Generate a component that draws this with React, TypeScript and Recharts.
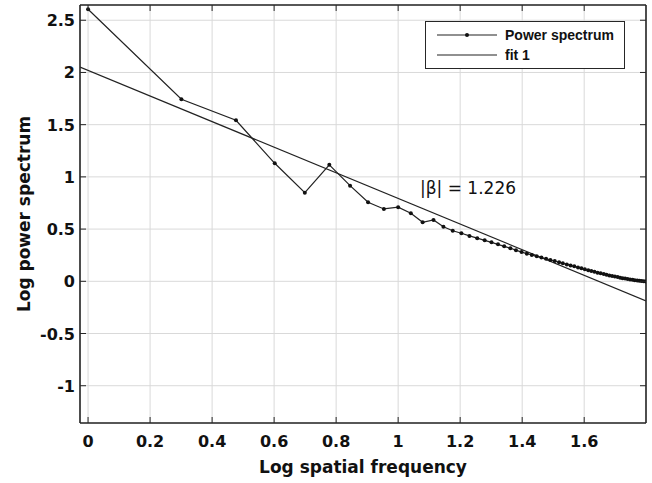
import { LineChart, Line, XAxis, YAxis, CartesianGrid, Legend } from "recharts"

// log10 of spatial frequency index
const spectrumX = [
  0, 0.301, 0.477, 0.602, 0.699, 0.778, 0.845, 0.903, 0.954, 1.0,
  1.041, 1.079, 1.114, 1.146, 1.176, 1.204, 1.23, 1.255, 1.279, 1.301,
  1.322, 1.342, 1.362, 1.38, 1.398, 1.415, 1.431, 1.447, 1.462, 1.477,
  1.491, 1.505, 1.519, 1.531, 1.544, 1.556, 1.568, 1.58, 1.591, 1.602,
  1.613, 1.623, 1.633, 1.643, 1.653, 1.663, 1.672, 1.681, 1.69, 1.699,
  1.708, 1.716, 1.724, 1.732, 1.74, 1.748, 1.756, 1.763, 1.771, 1.778,
  1.785, 1.792, 1.799,
]
const spectrumY = [
  2.605, 1.743, 1.542, 1.13, 0.849, 1.115, 0.916, 0.757, 0.693, 0.71,
  0.651, 0.565, 0.587, 0.523, 0.484, 0.46, 0.435, 0.413, 0.392, 0.373,
  0.354, 0.335, 0.316, 0.298, 0.28, 0.265, 0.252, 0.239, 0.227, 0.216,
  0.205, 0.194, 0.182, 0.172, 0.162, 0.152, 0.143, 0.133, 0.124, 0.115,
  0.107, 0.099, 0.091, 0.083, 0.076, 0.069, 0.062, 0.056, 0.05, 0.045,
  0.04, 0.035, 0.03, 0.026, 0.022, 0.018, 0.014, 0.011, 0.008, 0.005,
  0.003, 0.001, -0.002,
]
const fitX = [-0.026, 1.7993]
const fitY = [2.052, -0.187]

const xTicks = [0, 0.2, 0.4, 0.6, 0.8, 1, 1.2, 1.4, 1.6]
const yTicks = [-1, -0.5, 0, 0.5, 1, 1.5, 2, 2.5]

const spectrumData = spectrumX.map((x, i) => ({ x, y: spectrumY[i] }))
const fitData = fitX.map((x, i) => ({ x, y: fitY[i] }))

const axisColor = "#262626"
const tickFont = { fontFamily: "DejaVu Sans", fontWeight: 700, fontSize: 16, fill: "#111" }

const BottomTick = ({ x, y, payload }: any) => (
  <g>
    <line x1={x} y1={y} x2={x} y2={y - 6} stroke={axisColor} strokeWidth={1} />
    <text x={x} y={y + 24} textAnchor="middle" style={tickFont}>
      {payload.value}
    </text>
  </g>
)

const LeftTick = ({ x, y, payload }: any) => (
  <g>
    <line x1={x} y1={y} x2={x + 6} y2={y} stroke={axisColor} strokeWidth={1} />
    <text x={x - 5} y={y + 6} textAnchor="end" style={tickFont}>
      {payload.value}
    </text>
  </g>
)

// top / right axes only carry the inward tick marks of the box
const TopTick = ({ x }: any) => <line x1={x} y1={5} x2={x} y2={11} stroke={axisColor} strokeWidth={1} />

const RightTick = ({ y }: any) => <line x1={646} y1={y} x2={640} y2={y} stroke={axisColor} strokeWidth={1} />

const labelFont = { fontFamily: "DejaVu Sans", fontWeight: 700, fontSize: 17, fill: "#111" }

const XLabel = ({ viewBox }: any) => (
  <text x={viewBox.x + viewBox.width / 2} y={473} textAnchor="middle" style={labelFont}>
    Log spatial frequency
  </text>
)

const YLabel = ({ viewBox }: any) => {
  const cx = 24
  const cy = viewBox.y + viewBox.height / 2
  return (
    <text
      x={cx}
      y={cy}
      textAnchor="middle"
      dominantBaseline="central"
      transform={`rotate(-90, ${cx}, ${cy})`}
      style={labelFont}
    >
      Log power spectrum
    </text>
  )
}

const legendText = { fontFamily: "Liberation Sans", fontWeight: 700, fontSize: 14, fill: "#111" }

const LegendBox = () => (
  <div
    style={{
      width: 200,
      height: 48,
      boxSizing: "border-box",
      border: "1px solid #262626",
      background: "#fff",
    }}
  >
    <svg width={198} height={46}>
      <line x1={11} y1={13} x2={71} y2={13} stroke="#222" strokeWidth={1.2} />
      <circle cx={41} cy={13} r={2} fill="#111" />
      <text x={79} y={13} dominantBaseline="central" style={legendText}>
        Power spectrum
      </text>
      <line x1={11} y1={33} x2={71} y2={33} stroke="#222" strokeWidth={1.2} />
      <text x={79} y={33} dominantBaseline="central" style={legendText}>
        fit 1
      </text>
    </svg>
  </div>
)

export default function App() {
  const xDomain = [-0.026, 1.7993]
  const yDomain = [-1.357, 2.646]
  return (
    <div style={{ position: "absolute", left: 0, top: 0, width: 652, height: 483, background: "#fff" }}>
      <LineChart width={652} height={483} margin={{ top: 4, right: 5, bottom: 0, left: 0 }}>
        <CartesianGrid stroke="#d9d9d9" strokeWidth={1} />
        <XAxis
          dataKey="x"
          type="number"
          domain={xDomain}
          allowDataOverflow
          ticks={xTicks}
          interval={0}
          height={60}
          tickSize={0}
          tickMargin={0}
          tick={<BottomTick />}
          axisLine={{ stroke: axisColor, strokeWidth: 1.6 }}
          label={XLabel}
        />
        <XAxis
          xAxisId="top"
          orientation="top"
          dataKey="x"
          type="number"
          domain={xDomain}
          allowDataOverflow
          ticks={xTicks}
          interval={0}
          height={1}
          tickSize={0}
          tickMargin={0}
          tick={<TopTick />}
          axisLine={{ stroke: axisColor, strokeWidth: 1.6 }}
        />
        <YAxis
          type="number"
          domain={yDomain}
          allowDataOverflow
          ticks={yTicks}
          interval={0}
          width={80}
          tickSize={0}
          tickMargin={0}
          tick={<LeftTick />}
          axisLine={{ stroke: axisColor, strokeWidth: 1.6 }}
          label={YLabel}
        />
        <YAxis
          yAxisId="right"
          orientation="right"
          type="number"
          domain={yDomain}
          allowDataOverflow
          ticks={yTicks}
          interval={0}
          width={1}
          tickSize={0}
          tickMargin={0}
          tick={<RightTick />}
          axisLine={{ stroke: axisColor, strokeWidth: 1.6 }}
        />
        <Legend
          layout="vertical"
          align="center"
          verticalAlign="middle"
          wrapperStyle={{ left: 425, top: 21, width: 200, height: 48 }}
          content={() => <LegendBox />}
        />
        <Line
          data={fitData}
          xAxisId="top"
          yAxisId="right"
          dataKey="y"
          type="linear"
          stroke="#222"
          strokeWidth={1.2}
          dot={false}
          isAnimationActive={false}
          name="fit 1"
        />
        <Line
          data={spectrumData}
          dataKey="y"
          type="linear"
          stroke="#222"
          strokeWidth={1.2}
          dot={{ r: 2, fill: "#111", stroke: "#111", strokeWidth: 0 }}
          isAnimationActive={false}
          name="Power spectrum"
        />
      </LineChart>
      <div
        style={{
          position: "absolute",
          left: 420,
          top: 177,
          fontFamily: "DejaVu Sans",
          fontSize: 17,
          lineHeight: "22px",
          color: "#111",
          whiteSpace: "nowrap",
        }}
      >
        |β| = 1.226
      </div>
    </div>
  )
}
